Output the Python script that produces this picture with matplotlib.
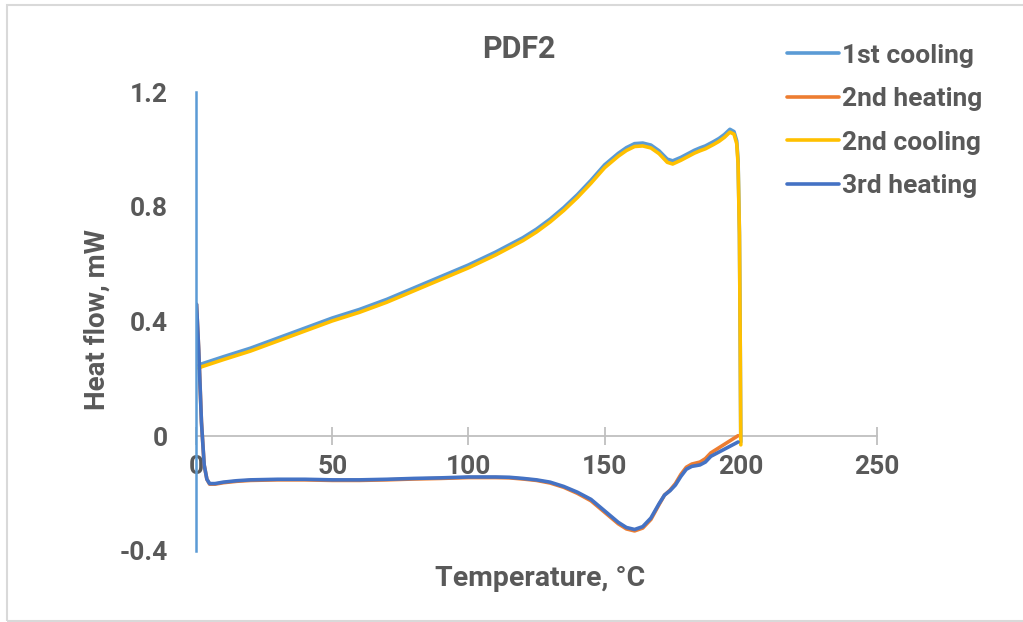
import matplotlib
matplotlib.use("Agg")
import matplotlib.pyplot as plt
from matplotlib.patches import Rectangle

plt.rcParams['font.family'] = ['Roboto', 'DejaVu Sans']
plt.rcParams['font.weight'] = 'bold'

TEXT = '#595959'

# Cooling scans (recorded from 200 °C down to 0 °C)
cool_T = [200.0, 199.8, 199.5, 199.0, 198.5, 197.5, 196.0, 194.0, 192.0, 190.0,
          187.0, 185.0, 183.0, 181.0, 178.0, 175.0, 173.0, 170.0, 167.0, 164.0,
          161.0, 158.0, 155.0, 150.0, 145.0, 140.0, 135.0, 130.0, 125.0, 120.0,
          110.0, 100.0, 90.0, 80.0, 70.0, 60.0, 50.0, 40.0, 30.0, 20.0, 10.0,
          2.0, 1.0]
cool1_hf = [-0.02, 0.31, 0.71, 0.96, 1.03, 1.062, 1.07, 1.052, 1.038, 1.027,
            1.012, 1.005, 0.997, 0.987, 0.972, 0.96, 0.966, 0.995, 1.015, 1.022,
            1.02, 1.006, 0.986, 0.946, 0.892, 0.842, 0.797, 0.757, 0.722, 0.692,
            0.642, 0.597, 0.557, 0.517, 0.477, 0.442, 0.412, 0.377, 0.342, 0.307,
            0.277, 0.252, 0.247]
cool2_hf = [-0.03, 0.30, 0.70, 0.95, 1.02, 1.053, 1.06, 1.042, 1.028, 1.017,
            1.002, 0.995, 0.987, 0.977, 0.962, 0.949, 0.955, 0.985, 1.005, 1.012,
            1.01, 0.996, 0.976, 0.936, 0.882, 0.832, 0.787, 0.747, 0.712, 0.682,
            0.632, 0.587, 0.547, 0.507, 0.467, 0.432, 0.402, 0.367, 0.332, 0.297,
            0.267, 0.242, 0.237]

# Heating scans (0 °C up to 200 °C)
heat_T = [0.2, 1.0, 2.0, 3.0, 4.0, 5.0, 7.0, 10.0, 15.0, 20.0, 30.0, 40.0, 50.0,
          60.0, 70.0, 80.0, 90.0, 100.0, 110.0, 115.0, 120.0, 125.0, 130.0, 135.0,
          140.0, 145.0, 150.0, 155.0, 158.0, 161.0, 164.0, 167.0, 170.0, 172.0,
          174.0, 176.0, 178.0, 180.0, 182.0, 185.0, 187.0, 189.0, 192.0, 195.0,
          199.0]
heat2_hf = [0.46, 0.30, 0.05, -0.10, -0.15, -0.167, -0.167, -0.162, -0.157, -0.154,
            -0.152, -0.152, -0.154, -0.154, -0.152, -0.149, -0.147, -0.144, -0.144,
            -0.145, -0.149, -0.154, -0.163, -0.178, -0.199, -0.225, -0.265, -0.305,
            -0.323, -0.33, -0.32, -0.29, -0.238, -0.205, -0.188, -0.165, -0.133,
            -0.108, -0.097, -0.09, -0.078, -0.058, -0.04, -0.022, 0.002]
heat3_hf = [0.46, 0.30, 0.05, -0.10, -0.15, -0.165, -0.165, -0.16, -0.155, -0.152,
            -0.15, -0.15, -0.152, -0.152, -0.15, -0.147, -0.145, -0.142, -0.142,
            -0.143, -0.147, -0.152, -0.16, -0.175, -0.195, -0.22, -0.26, -0.30,
            -0.318, -0.325, -0.315, -0.285, -0.235, -0.205, -0.19, -0.17, -0.14,
            -0.115, -0.105, -0.10, -0.09, -0.07, -0.055, -0.04, -0.02]

series = [
    ('1st cooling', cool_T, cool1_hf, '#5B9BD5'),
    ('2nd heating', heat_T, heat2_hf, '#ED7D31'),
    ('2nd cooling', cool_T, cool2_hf, '#FFC000'),
    ('3rd heating', heat_T, heat3_hf, '#4472C4'),
]

x_ticks = [0, 50, 100, 150, 200, 250]
y_ticks = [-0.4, 0, 0.4, 0.8, 1.2]
y_ticklabels = ['-0.4', '0', '0.4', '0.8', '1.2']

fig = plt.figure(figsize=(10.23, 6.22), dpi=100)
ax = fig.add_axes([196 / 1023, 1 - 551 / 622, (877 - 196) / 1023, (551 - 92) / 622])

for name, t, hf, col in series:
    ax.plot(t, hf, color=col, lw=2.6, label=name, solid_capstyle='round',
            solid_joinstyle='round', zorder=3)

ax.set_xlim(0, 250)
ax.set_ylim(-0.4, 1.2)

for s in ('top', 'right'):
    ax.spines[s].set_visible(False)
ax.spines['left'].set_color('#5B9BD5')
ax.spines['left'].set_linewidth(1.8)
ax.spines['left'].set_zorder(4)
ax.spines['bottom'].set_position(('data', 0))
ax.spines['bottom'].set_color('#BFBFBF')
ax.spines['bottom'].set_linewidth(1.3)

ax.set_xticks(x_ticks)
ax.set_xticklabels([str(v) for v in x_ticks])
ax.set_yticks(y_ticks)
ax.set_yticklabels(y_ticklabels)
ax.tick_params(axis='x', direction='inout', length=13, width=1.3, color='#BFBFBF',
               labelsize=19, labelcolor=TEXT, pad=7)
ax.tick_params(axis='y', length=0, labelsize=19, labelcolor=TEXT, pad=20)
for lbl in ax.get_xticklabels() + ax.get_yticklabels():
    lbl.set_fontweight('bold')

fig.text(519 / 1023, 1 - 49 / 622, 'PDF2', ha='center', va='center',
         fontsize=22, fontweight='bold', color=TEXT)
fig.text(540 / 1023, 1 - 578 / 622, 'Temperature, °C', ha='center', va='center',
         fontsize=20.5, fontweight='bold', color=TEXT)
fig.text(97 / 1023, 1 - 320 / 622, 'Heat flow, mW', ha='center', va='center',
         rotation=90, fontsize=20, fontweight='bold', color=TEXT)

leg = fig.legend(loc='upper left', bbox_to_anchor=(776 / 1023, 1 - 33 / 622),
                 frameon=False, fontsize=19, handlelength=2.0, handletextpad=0.1,
                 labelspacing=0.74, borderaxespad=0)
for txt in leg.get_texts():
    txt.set_color(TEXT)
    txt.set_fontweight('bold')
for h in leg.get_lines():
    h.set_linewidth(2.6)

fig.patches.append(Rectangle((7 / 1023, 1 / 622), 1.2, 1 - 6 / 622,
                             transform=fig.transFigure, fill=False,
                             edgecolor='#D9D9D9', lw=1.5))

fig.savefig('out.png', dpi=100)
